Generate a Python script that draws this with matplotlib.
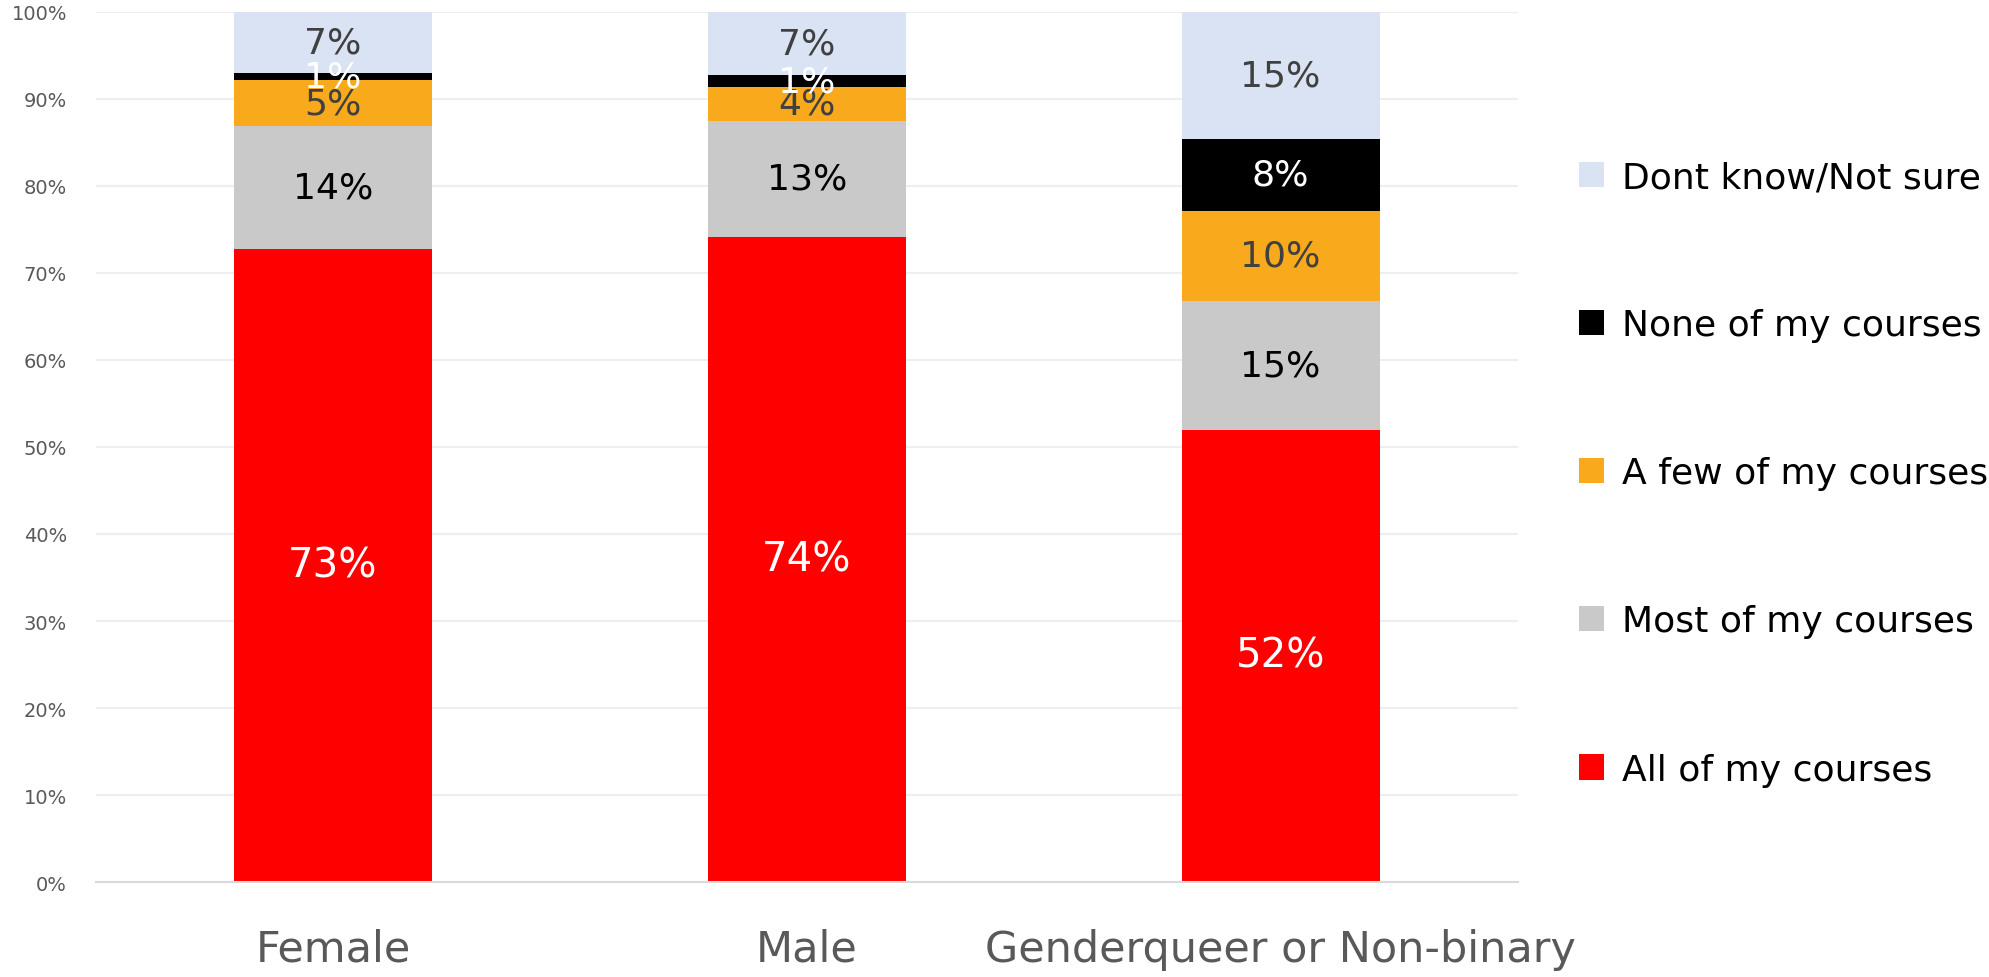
import numpy as np
import matplotlib.pyplot as plt

plt.rcParams['font.family'] = ['DejaVu Sans']

# data (percent of respondents)
groups = ['Female', 'Male', 'Genderqueer or Non-binary']
answers = ['All of my courses', 'Most of my courses', 'A few of my courses',
           'None of my courses', 'Dont know/Not sure']
all_courses = [72.7, 74.1, 52.0]
most_courses = [14.2, 13.4, 14.8]
few_courses = [5.2, 3.8, 10.3]
none_courses = [0.9, 1.4, 8.3]
dont_know = [7.0, 7.3, 14.6]

colors = ['#FF0000', '#C9C9C9', '#F9A91C', '#000000', '#DAE3F3']
label_colors = ['white', 'black', '#404040', 'white', '#404040']
label_sizes = [29, 26, 26, 26, 26]

fig = plt.figure(figsize=(19.89, 9.78), dpi=100)
ax = fig.add_axes([0.0483, 0.097, 0.7147, 0.89])

x = np.arange(len(groups))
series = [all_courses, most_courses, few_courses, none_courses, dont_know]
bottom = np.zeros(len(groups))
bars = []
for vals, name, col, lcol, lsz in zip(series, answers, colors, label_colors, label_sizes):
    vals = np.array(vals)
    b = ax.bar(x, vals, 0.418, bottom=bottom, color=col, label=name, zorder=2)
    bars.append(b)
    for xi, v, b0 in zip(x, vals, bottom):
        ax.text(xi, b0 + v / 2, '%d%%' % round(v), ha='center', va='center',
                color=lcol, fontsize=lsz, zorder=3)
    bottom += vals

ax.set_xlim(-0.5, 2.5)
ax.set_ylim(0, 100)
ax.set_yticks(np.arange(0, 101, 10))
ax.set_yticklabels(['%d%%' % t for t in range(0, 101, 10)])
ax.set_xticks(x)
ax.set_xticklabels(groups)
ax.tick_params(axis='y', length=0, pad=21, labelsize=14, labelcolor='#595959')
ax.tick_params(axis='x', length=0, pad=33, labelsize=31, labelcolor='#595959')
ax.grid(axis='y', color='#EEEEEE', linewidth=1.5, zorder=0)
for s in ['top', 'right', 'left']:
    ax.spines[s].set_visible(False)
ax.spines['bottom'].set_color('#D9D9D9')
ax.spines['bottom'].set_linewidth(1.5)

handles = bars[::-1]
leg = fig.legend(handles, answers[::-1], loc='upper left',
                 bbox_to_anchor=(0.7865, 0.85), frameon=False, fontsize=26,
                 labelspacing=3.16, handlelength=0.7, handleheight=0.7,
                 handletextpad=0.5, borderaxespad=0)

fig.savefig('out.png', dpi=100)
